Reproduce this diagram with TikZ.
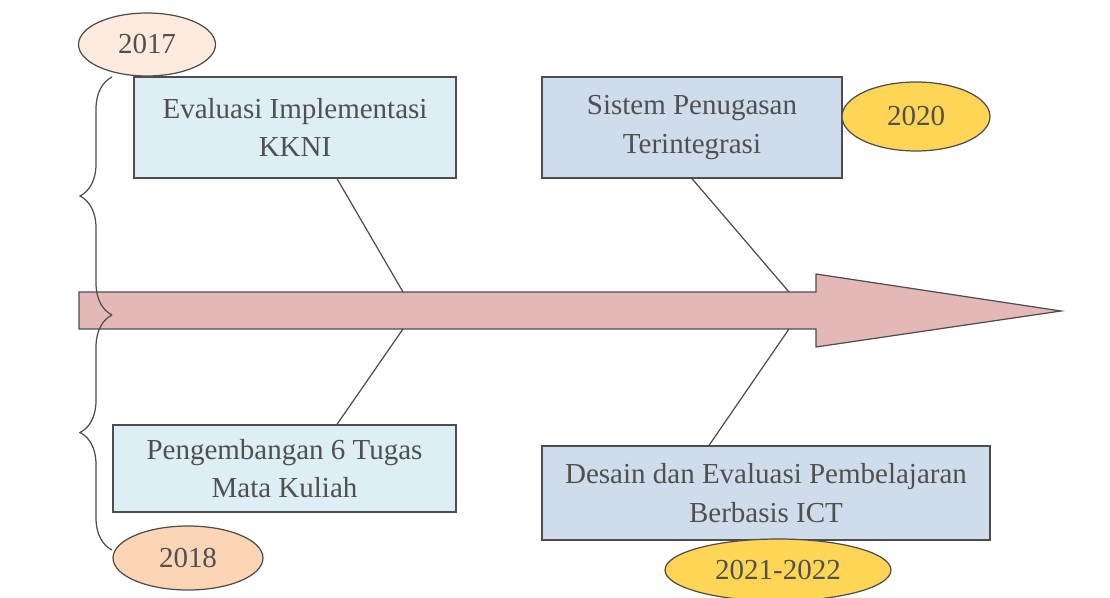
\documentclass[tikz,border=0pt]{standalone}
\usepackage{fontspec}
\setmainfont{Liberation Serif}
\usetikzlibrary{shapes.geometric,decorations.pathreplacing}

\definecolor{biru}{RGB}{221,238,244}
\definecolor{birutua}{RGB}{207,220,236}
\definecolor{merah}{RGB}{229,184,184}
\definecolor{krem}{RGB}{253,234,222}
\definecolor{jingga}{RGB}{251,213,181}
\definecolor{emas}{RGB}{255,213,85}
\definecolor{garis}{RGB}{77,77,77}
\definecolor{teks}{RGB}{80,80,80}

\begin{document}
\begin{tikzpicture}[x=0.02cm,y=-0.02cm,
	every node/.style={text=teks,font=\fontsize{16.5}{22}\selectfont},
	kotak/.style={draw=garis,line width=0.7pt,rectangle,align=center,inner sep=0pt},
	tahun/.style={draw=garis,line width=0.7pt,ellipse,inner sep=0pt}]
			\useasboundingbox (0,0) rectangle (1110,598);

			%Arrow
			\draw[garis,fill=merah,line width=0.7pt] (79,292) -- (816,292) -- (816,274) -- (1061,311) -- (816,347) -- (816,329) -- (79,329) -- cycle;
			\coordinate (a1) at (403,292);
			\coordinate (a2) at (789,292);
			\coordinate (a3) at (403,329);
			\coordinate (a4) at (789,329);

			%Boxes
			\node[kotak,fill=biru,minimum width=6.44cm,minimum height=2.02cm] (eval) at (295,127.5) {Evaluasi Implementasi\\KKNI};
			\node[kotak,fill=birutua,minimum width=6cm,minimum height=2.02cm] (sistem) at (692,127.5) {Sistem Penugasan\\Terintegrasi};
			\node[kotak,fill=biru,minimum width=6.86cm,minimum height=1.74cm] (kembang) at (284.5,468.5) {Pengembangan 6 Tugas\\Mata Kuliah};
			\node[kotak,fill=birutua,minimum width=8.96cm,minimum height=1.88cm] (desain) at (766,493) {Desain dan Evaluasi Pembelajaran\\Berbasis ICT};

			%Years
			\node[tahun,fill=krem,minimum width=2.74cm,minimum height=1.26cm] (th17) at (147,44.5) {2017};
			\node[tahun,fill=jingga,minimum width=3cm,minimum height=1.28cm] (th18) at (188,558) {2018};
			\node[tahun,fill=emas,minimum width=2.96cm,minimum height=1.38cm] (th20) at (916,116.5) {2020};
			\node[tahun,fill=emas,minimum width=4.52cm,minimum height=1.24cm] (th21) at (778,570) {2021-2022};

			%Lines
			\draw[garis,line width=0.7pt] ([xshift=0.84cm]eval.south) -- (a1);
			\draw[garis,line width=0.7pt] (sistem.south) -- (a2);
			\draw[garis,line width=0.7pt] ([xshift=1.05cm]kembang.north) -- (a3);
			\draw[garis,line width=0.7pt] ([xshift=-1.14cm]desain.north) -- (a4);

			%Braces
			\coordinate (b1) at (112,77);
			\coordinate (b2) at (112,315);
			\coordinate (b3) at (112,550);
			\draw[garis,line width=0.7pt,decorate,decoration={brace,amplitude=0.64cm}] (b2) -- (b1);
			\draw[garis,line width=0.7pt,decorate,decoration={brace,amplitude=0.64cm}] (b3) -- (b2);
		\end{tikzpicture}
\end{document}
